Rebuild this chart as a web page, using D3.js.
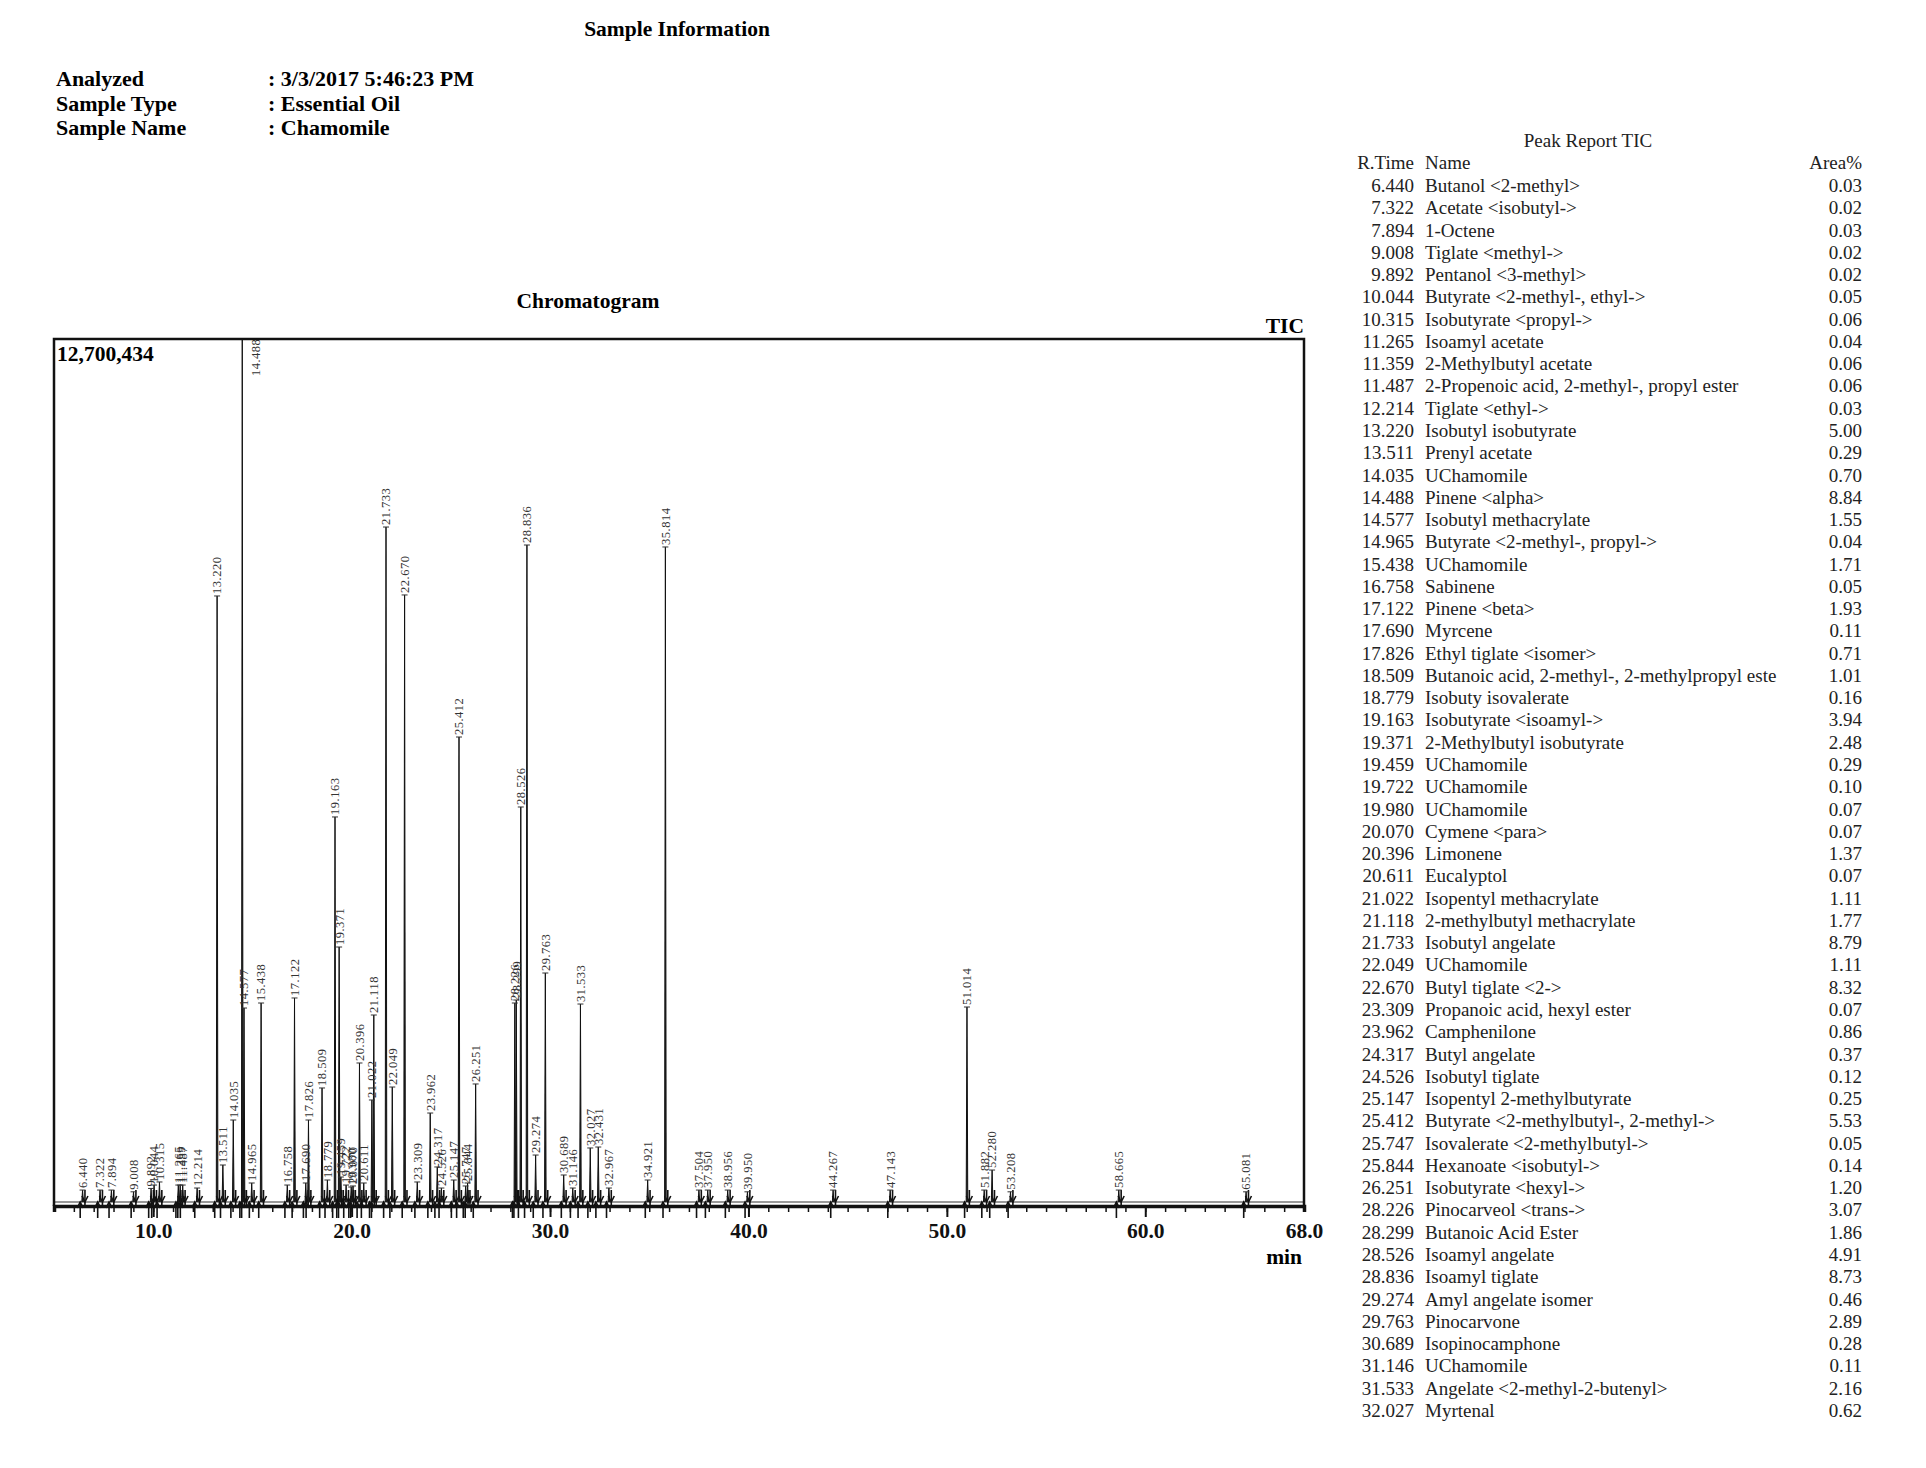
<!DOCTYPE html>
<html>
<head>
<meta charset="utf-8">
<script src="https://cdn.jsdelivr.net/npm/d3@7"></script>
<style>
  body { margin: 0; background: #fff; }
  svg { display: block; }
</style>
</head>
<body>
<div id="chart"></div>
<script>
// header info
var infoLabels = ["Analyzed", "Sample Type", "Sample Name"];
var infoValues = [": 3/3/2017 5:46:23 PM", ": Essential Oil", ": Chamomile"];

// peaks drawn on the chromatogram (retention time, min / height, counts)
var peakRT = [6.440, 7.322, 7.894, 9.008, 9.892, 10.044, 10.315, 11.265, 11.359, 11.487, 12.214,
  13.220, 13.511, 14.035, 14.488, 14.577, 14.965, 15.438, 16.758, 17.122, 17.690, 17.826,
  18.509, 18.779, 19.163, 19.371, 19.459, 19.722, 19.980, 20.070, 20.396, 20.611, 21.022,
  21.118, 21.733, 22.049, 22.670, 23.309, 23.962, 24.317, 24.526, 25.147, 25.412, 25.747,
  25.844, 26.251, 28.226, 28.299, 28.526, 28.836, 29.274, 29.763, 30.689, 31.146, 31.533,
  32.027, 32.431, 32.967, 34.921, 35.814, 37.504, 37.950, 38.956, 39.950, 44.267, 47.143,
  51.014, 51.882, 52.280, 53.208, 58.665, 65.081];
var peakHeight = [176000, 176000, 176000, 150000, 200000, 250000, 295000, 250000, 250000, 250000, 206000,
  8929000, 545000, 1208000, 12700434, 2858000, 280000, 2932000, 250000, 3006000, 280000, 1208000,
  1680000, 324000, 5673000, 3757000, 368000, 250000, 221000, 236000, 2048000, 280000, 1503000,
  2755000, 9945000, 1694000, 8944000, 295000, 1311000, 516000, 206000, 324000, 6851000, 236000,
  280000, 1739000, 2932000, 2976000, 5820000, 9680000, 692000, 3374000, 398000, 206000, 2917000,
  796000, 810000, 206000, 324000, 9651000, 176000, 176000, 176000, 150000, 176000, 176000,
  2873000, 176000, 471000, 150000, 176000, 150000];

// peak report table
var tableRT = ["6.440", "7.322", "7.894", "9.008", "9.892", "10.044", "10.315", "11.265", "11.359",
  "11.487", "12.214", "13.220", "13.511", "14.035", "14.488", "14.577", "14.965", "15.438",
  "16.758", "17.122", "17.690", "17.826", "18.509", "18.779", "19.163", "19.371", "19.459",
  "19.722", "19.980", "20.070", "20.396", "20.611", "21.022", "21.118", "21.733", "22.049",
  "22.670", "23.309", "23.962", "24.317", "24.526", "25.147", "25.412", "25.747", "25.844",
  "26.251", "28.226", "28.299", "28.526", "28.836", "29.274", "29.763", "30.689", "31.146",
  "31.533", "32.027"];
var tableNames = ["Butanol <2-methyl>", "Acetate <isobutyl->", "1-Octene", "Tiglate <methyl->",
  "Pentanol <3-methyl>", "Butyrate <2-methyl-, ethyl->", "Isobutyrate <propyl->", "Isoamyl acetate",
  "2-Methylbutyl acetate", "2-Propenoic acid, 2-methyl-, propyl ester", "Tiglate <ethyl->",
  "Isobutyl isobutyrate", "Prenyl acetate", "UChamomile", "Pinene <alpha>", "Isobutyl methacrylate",
  "Butyrate <2-methyl-, propyl->", "UChamomile", "Sabinene", "Pinene <beta>", "Myrcene",
  "Ethyl tiglate <isomer>", "Butanoic acid, 2-methyl-, 2-methylpropyl este", "Isobuty isovalerate",
  "Isobutyrate <isoamyl->", "2-Methylbutyl isobutyrate", "UChamomile", "UChamomile", "UChamomile",
  "Cymene <para>", "Limonene", "Eucalyptol", "Isopentyl methacrylate", "2-methylbutyl methacrylate",
  "Isobutyl angelate", "UChamomile", "Butyl tiglate <2->", "Propanoic acid, hexyl ester",
  "Camphenilone", "Butyl angelate", "Isobutyl tiglate", "Isopentyl 2-methylbutyrate",
  "Butyrate <2-methylbutyl-, 2-methyl->", "Isovalerate <2-methylbutyl->", "Hexanoate <isobutyl->",
  "Isobutyrate <hexyl->", "Pinocarveol <trans->", "Butanoic Acid Ester", "Isoamyl angelate",
  "Isoamyl tiglate", "Amyl angelate isomer", "Pinocarvone", "Isopinocamphone", "UChamomile",
  "Angelate <2-methyl-2-butenyl>", "Myrtenal"];
var tableArea = ["0.03", "0.02", "0.03", "0.02", "0.02", "0.05", "0.06", "0.04", "0.06", "0.06",
  "0.03", "5.00", "0.29", "0.70", "8.84", "1.55", "0.04", "1.71", "0.05", "1.93", "0.11", "0.71",
  "1.01", "0.16", "3.94", "2.48", "0.29", "0.10", "0.07", "0.07", "1.37", "0.07", "1.11", "1.77",
  "8.79", "1.11", "8.32", "0.07", "0.86", "0.37", "0.12", "0.25", "5.53", "0.05", "0.14", "1.20",
  "3.07", "1.86", "4.91", "8.73", "0.46", "2.89", "0.28", "0.11", "2.16", "0.62"];

var xTicksMajor = [10, 20, 30, 40, 50, 60, 68];
var yMax = 12700434;

var serif = "'Liberation Serif', 'Times New Roman', serif";

var svg = d3.select("#chart").append("svg")
    .attr("width", 1926)
    .attr("height", 1468)
    .style("font-family", serif);

svg.append("rect").attr("width", 1926).attr("height", 1468).attr("fill", "#fff");

// ---- header ----
svg.append("text")
    .attr("x", 677).attr("y", 36)
    .attr("text-anchor", "middle")
    .attr("font-size", 21.5).attr("font-weight", "bold")
    .text("Sample Information");

infoLabels.forEach(function (d, i) {
    svg.append("text")
        .attr("x", 56).attr("y", 86 + i * 24.5)
        .attr("font-size", 22).attr("font-weight", "bold")
        .text(d);
    svg.append("text")
        .attr("x", 268).attr("y", 86 + i * 24.5)
        .attr("font-size", 22).attr("font-weight", "bold")
        .text(infoValues[i]);
});

// ---- chromatogram ----
var x = d3.scaleLinear().domain([5, 68]).range([54, 1304]);
var y = d3.scaleLinear().domain([0, yMax]).range([1202, 340]);

svg.append("text")
    .attr("x", 588).attr("y", 308)
    .attr("text-anchor", "middle")
    .attr("font-size", 21.5).attr("font-weight", "bold")
    .text("Chromatogram");

svg.append("text")
    .attr("x", 1304).attr("y", 333)
    .attr("text-anchor", "end")
    .attr("font-size", 21.5).attr("font-weight", "bold")
    .text("TIC");

svg.append("text")
    .attr("x", 57).attr("y", 361)
    .attr("font-size", 21.5).attr("font-weight", "bold")
    .text(d3.format(",")(yMax));

var peaks = peakRT.map(function (rt, i) { return { rt: rt, h: peakHeight[i] }; });

// baseline signal
svg.append("line")
    .attr("x1", x(5)).attr("x2", x(68))
    .attr("y1", y(0)).attr("y2", y(0))
    .attr("stroke", "#777").attr("stroke-width", 1.5);

// integration markers
var marks = svg.append("g").attr("stroke", "#111").attr("stroke-width", 1.6);
peaks.forEach(function (d) {
    [d.rt - 0.12, d.rt + 0.12].forEach(function (t, k) {
        var px = x(t);
        if (k === 0) {
            marks.append("line").attr("x1", px).attr("x2", px).attr("y1", y(0) + 16).attr("y2", y(0));
            marks.append("path").attr("d", "M" + (px - 3) + "," + (y(0) + 6) + "L" + px + "," + y(0) + "L" + (px + 3) + "," + (y(0) + 6)).attr("fill", "none");
        } else {
            marks.append("line").attr("x1", px).attr("x2", px).attr("y1", y(0) - 12).attr("y2", y(0) + 6);
            marks.append("path").attr("d", "M" + (px - 3) + "," + (y(0) - 6) + "L" + px + "," + y(0) + "L" + (px + 3) + "," + (y(0) - 6)).attr("fill", "none");
        }
    });
});

// peaks as narrow triangles
var peakLine = d3.line().x(function (p) { return x(p[0]); }).y(function (p) { return y(p[1]); });
svg.append("g")
    .selectAll("path")
    .data(peaks)
    .enter()
    .append("path")
    .attr("d", function (d) {
        var top = Math.min(d.h, yMax);
        return peakLine([[d.rt - 0.04, 0], [d.rt, top], [d.rt + 0.04, 0]]);
    })
    .attr("fill", "#222")
    .attr("stroke", "#111")
    .attr("stroke-width", 1);

// top tick + rotated retention time labels
var lab = svg.append("g");
peaks.forEach(function (d) {
    var clipped = d.h >= yMax;
    var px = x(d.rt), py = y(Math.min(d.h, yMax));
    if (!clipped) {
        lab.append("line")
            .attr("x1", px - 3).attr("x2", px + 3)
            .attr("y1", py).attr("y2", py)
            .attr("stroke", "#333").attr("stroke-width", 1);
    }
    lab.append("text")
        .attr("transform", clipped
            ? "translate(" + (px + 13) + "," + (py + 36) + ") rotate(-90)"
            : "translate(" + px + "," + (py - 2) + ") rotate(-90)")
        .attr("dy", "0.35em")
        .attr("font-size", 12.5)
        .attr("letter-spacing", 0.5)
        .attr("fill", "#333")
        .text(d.rt.toFixed(3));
});

// frame
svg.append("path")
    .attr("d", "M" + x(5) + "," + 1206 + "V" + 339 + "H" + x(68) + "V" + 1206)
    .attr("fill", "none")
    .attr("stroke", "#111")
    .attr("stroke-width", 2.5);

// x axis: minor and major ticks
var minorAxis = d3.axisBottom(x)
    .tickValues(d3.range(6, 68))
    .tickSize(6)
    .tickFormat("");
svg.append("g")
    .attr("transform", "translate(0,1206)")
    .call(minorAxis)
    .call(function (g) {
        g.select(".domain").attr("stroke", "#111").attr("stroke-width", 3.5);
        g.selectAll(".tick line").attr("stroke", "#111").attr("stroke-width", 1.5);
    });

var majorAxis = d3.axisBottom(x)
    .tickValues(xTicksMajor)
    .tickSize(11)
    .tickPadding(6)
    .tickFormat(d3.format(".1f"));
svg.append("g")
    .attr("transform", "translate(0,1206)")
    .call(majorAxis)
    .call(function (g) {
        g.select(".domain").remove();
        g.selectAll(".tick line").attr("stroke", "#111").attr("stroke-width", 2)
            .filter(function (d) { return d === 68; }).remove();
        g.selectAll(".tick text")
            .attr("font-family", serif)
            .attr("font-size", 21.5)
            .attr("font-weight", "bold")
            .attr("fill", "#111");
    });

svg.append("text")
    .attr("x", 1302).attr("y", 1264)
    .attr("text-anchor", "end")
    .attr("font-size", 21.5).attr("font-weight", "bold")
    .text("min");

// ---- peak report table ----
var t0 = 192, rowH = 22.27;
svg.append("text")
    .attr("x", 1588).attr("y", 147)
    .attr("text-anchor", "middle")
    .attr("font-size", 19).attr("fill", "#222")
    .text("Peak Report TIC");
svg.append("text").attr("x", 1414).attr("y", 169).attr("text-anchor", "end")
    .attr("font-size", 19).attr("fill", "#222").text("R.Time");
svg.append("text").attr("x", 1425).attr("y", 169)
    .attr("font-size", 19).attr("fill", "#222").text("Name");
svg.append("text").attr("x", 1862).attr("y", 169).attr("text-anchor", "end")
    .attr("font-size", 19).attr("fill", "#222").text("Area%");

var rows = svg.append("g").attr("font-size", 19).attr("fill", "#222");
tableRT.forEach(function (rt, i) {
    var ry = t0 + i * rowH;
    rows.append("text").attr("x", 1414).attr("y", ry).attr("text-anchor", "end").text(rt);
    rows.append("text").attr("x", 1425).attr("y", ry).text(tableNames[i]);
    rows.append("text").attr("x", 1862).attr("y", ry).attr("text-anchor", "end").text(tableArea[i]);
});
</script>
</body>
</html>
